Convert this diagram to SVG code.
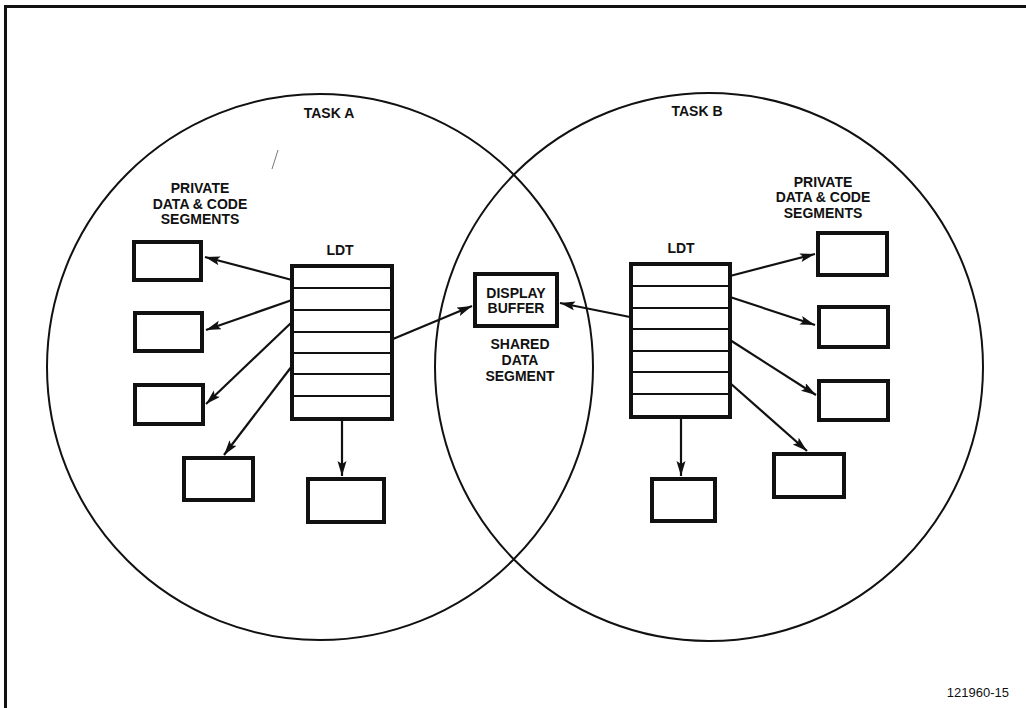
<svg xmlns="http://www.w3.org/2000/svg" width="1026" height="708" viewBox="0 0 1026 708">
<style>
.lbl{font-family:"Liberation Sans",Arial,sans-serif;font-weight:bold;font-size:14px;fill:#111;text-anchor:middle}
.seg{fill:#fff;stroke:#111;stroke-width:4}
.row{stroke:#111;stroke-width:2}
.task{fill:none;stroke:#111;stroke-width:2}
.arr{stroke:#111;stroke-width:2.2;fill:none;marker-end:url(#ah)}
</style>
<defs>
<marker id="ah" markerUnits="userSpaceOnUse" markerWidth="16" markerHeight="10" refX="15" refY="4.5" orient="auto">
<path d="M0,0 L15,4.5 L0,9 L3,4.5 z" fill="#111"/>
</marker>
</defs>
<rect width="1026" height="708" fill="#fff"/>
<g id="frame">
<path d="M5.5,708 L5.5,6.5 L1026,6.5" fill="none" stroke="#111" stroke-width="3"/>
</g>
<path d="M272,169 L278,150" stroke="#777" stroke-width="1" fill="none"/>
<g id="task-a">
<circle class="task" cx="320" cy="367" r="273"/>
<text class="lbl" x="329" y="118">TASK A</text>
<text class="lbl" x="200" y="193">PRIVATE</text>
<text class="lbl" x="200" y="209">DATA &amp; CODE</text>
<text class="lbl" x="200" y="224">SEGMENTS</text>
</g>
<g id="task-b">
<circle class="task" cx="709" cy="367" r="274"/>
<text class="lbl" x="697" y="116">TASK B</text>
<text class="lbl" x="823" y="187">PRIVATE</text>
<text class="lbl" x="823" y="202">DATA &amp; CODE</text>
<text class="lbl" x="823" y="218">SEGMENTS</text>
</g>
<g id="ldt-a">
<text class="lbl" x="340" y="255">LDT</text>
<rect class="seg" x="292" y="266" width="100" height="153"/>
<path class="row" d="M292,288 H392 M292,310 H392 M292,332 H392 M292,353 H392 M292,374 H392 M292,396 H392"/>
</g>
<g id="ldt-b">
<text class="lbl" x="681" y="253">LDT</text>
<rect class="seg" x="631" y="264" width="99" height="153"/>
<path class="row" d="M631,286 H730 M631,308 H730 M631,329 H730 M631,351 H730 M631,372 H730 M631,394 H730"/>
</g>
<g id="display-buffer">
<rect class="seg" x="475" y="274" width="82" height="52"/>
<text class="lbl" x="516" y="298">DISPLAY</text>
<text class="lbl" x="516" y="313">BUFFER</text>
<text class="lbl" x="520" y="349">SHARED</text>
<text class="lbl" x="520" y="365">DATA</text>
<text class="lbl" x="520" y="381">SEGMENT</text>
</g>
<g id="seg-a1"><rect class="seg" x="134" y="242" width="67" height="38"/></g>
<g id="seg-a2"><rect class="seg" x="135" y="313" width="67" height="38"/></g>
<g id="seg-a3"><rect class="seg" x="135" y="385" width="68" height="39"/></g>
<g id="seg-a4"><rect class="seg" x="184" y="458" width="69" height="42"/></g>
<g id="seg-a5"><rect class="seg" x="308" y="479" width="76" height="43"/></g>
<g id="seg-b1"><rect class="seg" x="818" y="233" width="69" height="42"/></g>
<g id="seg-b2"><rect class="seg" x="819" y="307" width="69" height="40"/></g>
<g id="seg-b3"><rect class="seg" x="819" y="381" width="69" height="39"/></g>
<g id="seg-b4"><rect class="seg" x="774" y="454" width="70" height="43"/></g>
<g id="seg-b5"><rect class="seg" x="652" y="479" width="63" height="42"/></g>
<g id="connectors">
<path class="arr" d="M292,280 L205,257"/>
<path class="arr" d="M292,300 L206,330"/>
<path class="arr" d="M292,322 L206,404"/>
<path class="arr" d="M292,366 L224,455"/>
<path class="arr" d="M342,419 L342,476"/>
<path class="arr" d="M393,339 L472,306"/>
<path class="arr" d="M630,317 L560,303"/>
<path class="arr" d="M730,276 L815,254"/>
<path class="arr" d="M730,297 L815,325"/>
<path class="arr" d="M730,340 L816,395"/>
<path class="arr" d="M730,383 L807,451"/>
<path class="arr" d="M681,417 L681,476"/>
</g>
<text x="1009" y="697" font-family="'Liberation Sans',Arial,sans-serif" font-size="13" fill="#111" text-anchor="end">121960-15</text>
</svg>
